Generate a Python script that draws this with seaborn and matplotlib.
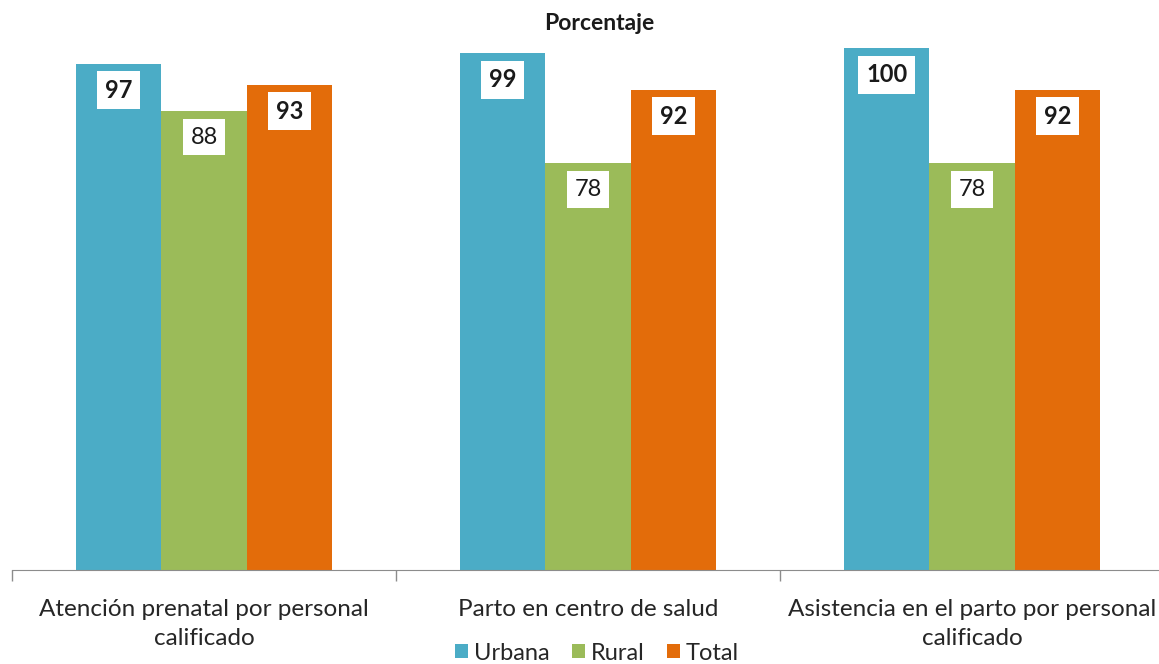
import pandas as pd
import matplotlib.pyplot as plt
import seaborn as sns

# Data
categories = ['Atención prenatal por personal\ncalificado',
              'Parto en centro de salud',
              'Asistencia en el parto por personal\ncalificado']
series = ['Urbana', 'Rural', 'Total']
urbana = [97, 99, 100]
rural = [88, 78, 78]
total = [93, 92, 92]

colors = ['#4BACC6', '#9BBB59', '#E36C0A']

# long table for seaborn
rows = []
for i, cat in enumerate(categories):
    for name, vals in zip(series, [urbana, rural, total]):
        rows.append({'Indicador': cat, 'Area': name, 'Valor': vals[i]})
df = pd.DataFrame(rows)

sns.set_style('white')
plt.rcParams['font.family'] = ['Lato', 'DejaVu Sans']

fig = plt.figure(figsize=(11.59, 6.64), dpi=100)
W, H = 1159, 664
ax = fig.add_axes([12 / W, 94 / H, 1152 / W, 522 / H])

sns.barplot(data=df, x='Indicador', y='Valor', hue='Area', palette=colors,
            width=2 / 3, gap=0, saturation=1, ax=ax, errorbar=None,
            linewidth=0)

ax.set_ylim(0, 100)
ax.set_xlim(-0.5, 2.5)
for c in ax.containers:
    for p in c:
        p.set_clip_on(False)

# value labels in white boxes
for c, name in zip(ax.containers, series):
    bold = name != 'Rural'
    for p in c:
        v = p.get_height()
        ax.text(p.get_x() + p.get_width() / 2, v - 5.1, f'{v:.0f}',
                ha='center', va='center', fontsize=17,
                fontweight='bold' if bold else 'normal', color='#1a1a1a',
                bbox=dict(facecolor='white', edgecolor='none', pad=5.5))

# axes styling
for s in ['top', 'right', 'left']:
    ax.spines[s].set_visible(False)
ax.spines['bottom'].set_color('#8c8c8c')
ax.set_yticks([])
ax.set_xlabel('')
ax.set_ylabel('')
ax.set_xticks(range(len(categories)))
ax.set_xticklabels(categories, fontsize=17.5, color='#262626', linespacing=1.45)
ax.tick_params(axis='x', which='major', length=0, pad=21)
ax.set_xticks([-0.5, 0.5, 1.5, 2.5], minor=True)
ax.tick_params(axis='x', which='minor', bottom=True, length=8, width=1,
               color='#8c8c8c')

fig.text(599 / W, 1 - 24 / H, 'Porcentaje', ha='center', va='center',
         fontsize=16.5, fontweight='bold', color='#1a1a1a')

handles, labels = ax.get_legend_handles_labels()
ax.legend_.remove()
fig.legend(handles, labels, loc='center', bbox_to_anchor=(597 / W, 1 - 653 / H),
           ncol=3, frameon=False, fontsize=17, handlelength=0.55, handleheight=0.55,
           handletextpad=0.25, columnspacing=0.95)

fig.savefig('out.png', dpi=100)
